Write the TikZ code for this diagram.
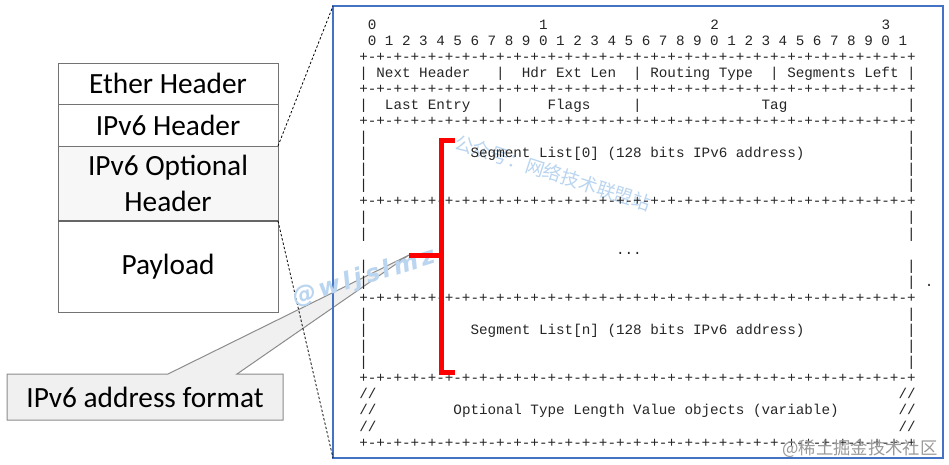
\documentclass[tikz,border=0pt]{standalone}
\usepackage{fontspec}
\setmainfont{Carlito}
\setmonofont{Liberation Mono}
\newfontfamily\cjkfont{Noto Sans CJK SC}
\newfontfamily\wmfont[LetterSpace=14]{DejaVu Sans}
\usetikzlibrary{positioning, calc, backgrounds}
\definecolor{frameblue}{RGB}{68,114,196}
\definecolor{wmblue}{RGB}{186,213,240}
\newcommand\spc[1]{\hskip#1\fontcharwd\font`0\relax}
\newcommand\pairs{-+-+-+-+-+-+-+-+}
\newcommand\ruleline{+\pairs\pairs\pairs\pairs}
\tikzset{
  pkt/.style={rectangle, draw=black!55, line width=0.75pt, minimum width=165pt,
              outer sep=0pt, inner sep=0pt, align=center,
              font=\fontsize{22pt}{27pt}\selectfont},
  asc/.style={anchor=base west, inner sep=0pt, text=black!85,
              font=\ttfamily\fontsize{10.7pt}{12pt}\selectfont\frenchspacing},
  zoomline/.style={dash pattern=on 1.8pt off 1.5pt, line width=0.6pt},
  bracket/.style={red, line width=3.75pt},
  callout/.style={draw=black!45, fill=black!6, line width=0.75pt},
  wmark/.style={text=wmblue, inner sep=0pt},
}

\begin{document}
\begin{tikzpicture}[x=0.75pt, y=-0.75pt, node distance=0pt]

  \useasboundingbox (0,0) rectangle (949,464);

  \node[pkt, minimum height=30.75pt] (ether) at (168,83.5) {Ether Header};
  \node[pkt, minimum height=31.5pt, below=of ether] (ipv6) {IPv6 Header};
  \node[pkt, minimum height=56.25pt, fill=black!3, below=of ipv6] (opt) {IPv6 Optional\\Header};
  \node[pkt, minimum height=68.25pt, below=of opt] (pay) {Payload};
  \draw[black!60, line width=1.5pt] (opt.south west) -- (opt.south east);

  \coordinate (tip) at (409,255);
  \node[minimum width=207pt, minimum height=34.5pt, inner sep=0pt, outer sep=0pt,
        font=\fontsize{22pt}{27pt}\selectfont] (addr) at (145,397) {IPv6 address format};

  \begin{scope}[on background layer]
    \fill[white] (0,0) rectangle (949,464);
    \draw[callout] (addr.south west) -- (addr.north west)
      -- ($(addr.north west)+(161,0)$) -- (tip) -- ($(addr.north west)+(230,0)$)
      -- (addr.north east) -- (addr.south east) -- cycle;
  \end{scope}

  \node[draw=frameblue, line width=1pt, minimum width=457.5pt, minimum height=339pt,
        outer sep=0pt, inner sep=0pt] (frame) at (638,232) {};
  \draw[zoomline] (opt.north east) -- (frame.north west);
  \draw[zoomline] (pay.north east) -- (frame.south west);

  \node[wmark, rotate=-18, font=\cjkfont\fontsize{14pt}{14pt}\selectfont] (wm1) at (553,173) {公众号：网络技术联盟站};
  \node[wmark, rotate=17, font=\wmfont\bfseries\itshape\fontsize{18pt}{18pt}\selectfont] (wm2) at (364,278) {@wljslmz};

  \node[asc] (bits10) at (359,29) {\spc{1}0\spc{19}1\spc{19}2\spc{19}3};
  \node[asc] (bits) at (359,{29+16.08}) {\spc{1}0 1 2 3 4 5 6 7 8 9 0 1 2 3 4 5 6 7 8 9 0 1 2 3 4 5 6 7 8 9 0 1};
  \foreach \k in {2,4,6,11,17,22,26}
    \node[asc] (rule\k) at (359,{29+16.08*\k}) {\ruleline};
  \foreach \k in {7,9,10,12,13,15,16,18,20,21}
    \node[asc] (bar\k) at (359,{29+16.08*\k}) {|\spc{63}|};
  \node[asc] (hdr1) at (359,{29+16.08*3})
    {|\spc{1}Next Header\spc{3}|\spc{2}Hdr Ext Len\spc{2}|\spc{1}Routing Type\spc{2}|\spc{1}Segments Left\spc{1}|};
  \node[asc] (hdr2) at (359,{29+16.08*5})
    {|\spc{2}Last Entry\spc{3}|\spc{5}Flags\spc{5}|\spc{14}Tag\spc{14}|};
  \node[asc] (seg0) at (359,{29+16.08*8})
    {|\spc{12}Segment List[0] (128 bits IPv6 address)\spc{12}|};
  \node[asc] (gap) at (359,{29+16.08*14}) {\spc{30}...};
  \node[asc] (dot) at ([xshift=6.42pt]bar16.base east) {.};
  \node[asc] (segn) at (359,{29+16.08*19})
    {|\spc{12}Segment List[n] (128 bits IPv6 address)\spc{12}|};
  \node[asc] (tlv1) at (359,{29+16.08*23}) {//\spc{61}//};
  \node[asc] (tlv) at (359,{29+16.08*24})
    {//\spc{9}Optional Type Length Value objects (variable)\spc{7}//};
  \node[asc] (tlv3) at (359,{29+16.08*25}) {//\spc{61}//};

  \draw[bracket] (455,140) -| (441,255) |- (455,372);
  \draw[bracket] (441,255) -- (tip);

  \node[text=black!40, inner sep=0pt, font=\cjkfont\fontsize{13pt}{13pt}\selectfont] (wm3) at (860,449) {@稀土掘金技术社区};

\end{tikzpicture}
\end{document}
